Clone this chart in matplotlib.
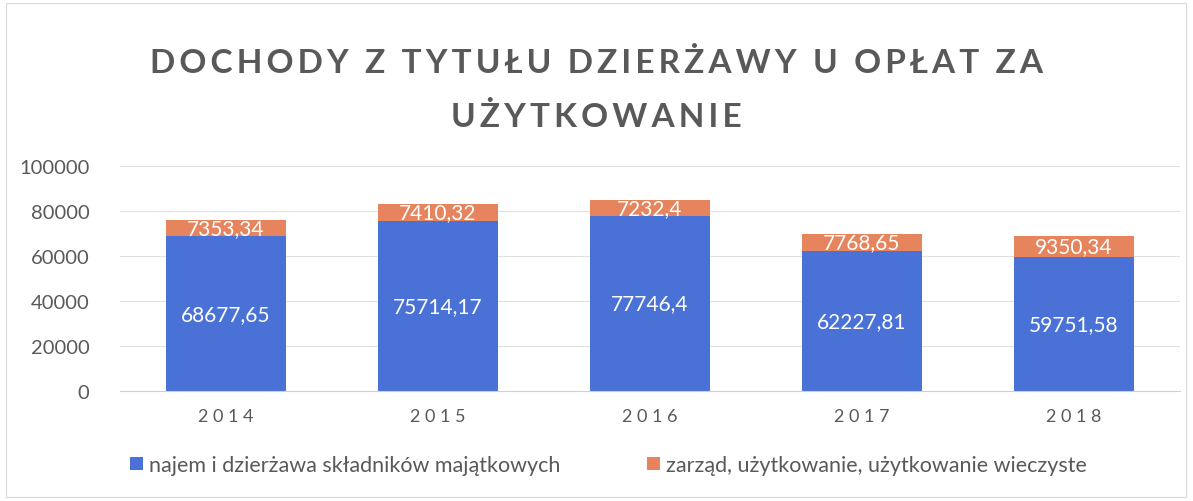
import numpy as np
import matplotlib.pyplot as plt
from matplotlib.patches import Rectangle

years = ['2014', '2015', '2016', '2017', '2018']
najem = [68677.65, 75714.17, 77746.4, 62227.81, 59751.58]
zarzad = [7353.34, 7410.32, 7232.4, 7768.65, 9350.34]
najem_labels = ['68677,65', '75714,17', '77746,4', '62227,81', '59751,58']
zarzad_labels = ['7353,34', '7410,32', '7232,4', '7768,65', '9350,34']

blue = '#4a72d6'
orange = '#e6845e'
gray = '#595959'

plt.rcParams['font.family'] = ['Lato', 'DejaVu Sans']

fig = plt.figure(figsize=(11.93, 5.02), dpi=100)
ax = fig.add_axes([120 / 1193, 1 - 392 / 502, 1060 / 1193, 225 / 502])

x = np.arange(len(years))
ax.bar(x, najem, width=0.57, color=blue, label='najem i dzierżawa składników majątkowych', zorder=2)
ax.bar(x, zarzad, width=0.57, bottom=najem, color=orange,
       label='zarząd, użytkowanie, użytkowanie wieczyste', zorder=2)

for i in range(len(years)):
    ax.text(x[i], najem[i] / 2, najem_labels[i], ha='center', va='center',
            color='white', fontsize=15, zorder=3)
    ax.text(x[i], najem[i] + zarzad[i] / 2, zarzad_labels[i], ha='center', va='center',
            color='white', fontsize=15, zorder=3)

ax.set_xlim(-0.5, 4.5)
ax.set_ylim(0, 100000)
ax.set_yticks(np.arange(0, 100001, 20000))
ax.set_xticks(x)
ax.set_xticklabels([' '.join(y) for y in years])
ax.tick_params(axis='y', length=0, labelsize=14.5, labelcolor=gray, pad=22)
ax.tick_params(axis='x', length=0, labelsize=13, labelcolor=gray, pad=12)
ax.grid(axis='y', color='#e0e0e0', linewidth=0.8, zorder=0)
for s in ['top', 'right', 'left']:
    ax.spines[s].set_visible(False)
ax.spines['bottom'].set_color('#d0d0d0')


def spaced(s):
    return '\u2009'.join(s)


fig.text(0.5, 1 - 63 / 502, spaced('DOCHODY Z TYTUŁU DZIERŻAWY U OPŁAT ZA'),
         ha='center', va='center', fontsize=24, fontweight='bold', color=gray)
fig.text(0.5, 1 - 117 / 502, spaced('UŻYTKOWANIE'),
         ha='center', va='center', fontsize=24, fontweight='bold', color=gray)

fig.legend(loc='center', bbox_to_anchor=(0.51, 1 - 466 / 502), ncol=2, frameon=False,
           fontsize=15.5, labelcolor=gray, handlelength=0.6, handleheight=0.6,
           handletextpad=0.3, columnspacing=4)

fig.patches.append(Rectangle((6 / 1193, 4 / 502), 1180 / 1193, 494 / 502, transform=fig.transFigure,
                             fill=False, edgecolor='#d9d9d9', linewidth=0.8))

fig.savefig('out.png', dpi=100)
